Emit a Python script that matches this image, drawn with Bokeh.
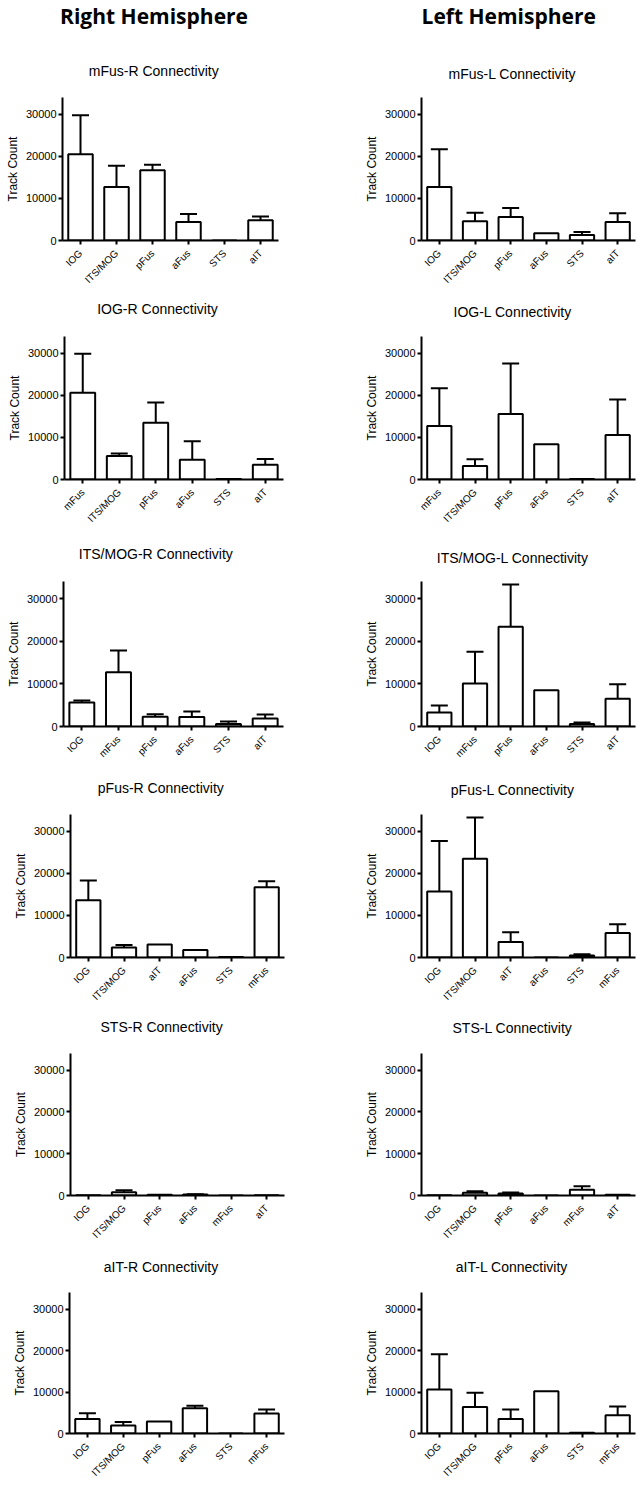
import math
from bokeh.plotting import figure
from bokeh.models import (Range1d, FactorRange, FixedTicker, Whisker, TeeHead,
                          ColumnDataSource, Title, NumeralTickFormatter)
from bokeh.layouts import row
from bokeh.embed import file_html
from bokeh.resources import INLINE

# ---------------- data ----------------
Y_MAX = 34000
y_ticks = [0, 10000, 20000, 30000]
hemispheres = ["Right Hemisphere", "Left Hemisphere"]
y_label = "Track Count"

# Right hemisphere
mfus_r_title = "mFus-R Connectivity"
mfus_r_cats = ["IOG", "ITS/MOG", "pFus", "aFus", "STS", "aIT"]
mfus_r_vals = [20500, 12700, 16700, 4400, 0, 4800]
mfus_r_errs = [29800, 17800, 18000, 6300, 0, 5700]

iog_r_title = "IOG-R Connectivity"
iog_r_cats = ["mFus", "ITS/MOG", "pFus", "aFus", "STS", "aIT"]
iog_r_vals = [20600, 5600, 13500, 4700, 100, 3500]
iog_r_errs = [29900, 6200, 18300, 9100, 100, 4900]

its_r_title = "ITS/MOG-R Connectivity"
its_r_cats = ["IOG", "mFus", "pFus", "aFus", "STS", "aIT"]
its_r_vals = [5600, 12700, 2300, 2200, 600, 1900]
its_r_errs = [6100, 17800, 2900, 3500, 1200, 2800]

pfus_r_title = "pFus-R Connectivity"
pfus_r_cats = ["IOG", "ITS/MOG", "aIT", "aFus", "STS", "mFus"]
pfus_r_vals = [13600, 2400, 3100, 1800, 100, 16700]
pfus_r_errs = [18300, 3000, 3100, 1800, 100, 18100]

sts_r_title = "STS-R Connectivity"
sts_r_cats = ["IOG", "ITS/MOG", "pFus", "aFus", "mFus", "aIT"]
sts_r_vals = [80, 800, 150, 250, 0, 80]
sts_r_errs = [80, 1250, 150, 300, 0, 80]

ait_r_title = "aIT-R Connectivity"
ait_r_cats = ["IOG", "ITS/MOG", "pFus", "aFus", "STS", "mFus"]
ait_r_vals = [3500, 1900, 2900, 6100, 0, 4800]
ait_r_errs = [4900, 2800, 2900, 6700, 0, 5800]

# Left hemisphere
mfus_l_title = "mFus-L Connectivity"
mfus_l_cats = ["IOG", "ITS/MOG", "pFus", "aFus", "STS", "aIT"]
mfus_l_vals = [12700, 4600, 5600, 1700, 1300, 4400]
mfus_l_errs = [21700, 6600, 7700, 1700, 2000, 6500]

iog_l_title = "IOG-L Connectivity"
iog_l_cats = ["mFus", "ITS/MOG", "pFus", "aFus", "STS", "aIT"]
iog_l_vals = [12700, 3200, 15600, 8400, 100, 10600]
iog_l_errs = [21700, 4800, 27600, 8400, 100, 19000]

its_l_title = "ITS/MOG-L Connectivity"
its_l_cats = ["IOG", "mFus", "pFus", "aFus", "STS", "aIT"]
its_l_vals = [3300, 10100, 23400, 8500, 600, 6500]
its_l_errs = [4900, 17500, 33300, 8500, 950, 9900]

pfus_l_title = "pFus-L Connectivity"
pfus_l_cats = ["IOG", "ITS/MOG", "aIT", "aFus", "STS", "mFus"]
pfus_l_vals = [15700, 23500, 3700, 0, 500, 5800]
pfus_l_errs = [27700, 33300, 6000, 0, 750, 7900]

sts_l_title = "STS-L Connectivity"
sts_l_cats = ["IOG", "ITS/MOG", "pFus", "aFus", "mFus", "aIT"]
sts_l_vals = [80, 650, 450, 0, 1350, 150]
sts_l_errs = [80, 1000, 700, 0, 2200, 150]

ait_l_title = "aIT-L Connectivity"
ait_l_cats = ["IOG", "ITS/MOG", "pFus", "aFus", "STS", "mFus"]
ait_l_vals = [10600, 6400, 3500, 10200, 200, 4400]
ait_l_errs = [19100, 9800, 5800, 10200, 200, 6500]

right_panels = [
    (mfus_r_title, mfus_r_cats, mfus_r_vals, mfus_r_errs),
    (iog_r_title, iog_r_cats, iog_r_vals, iog_r_errs),
    (its_r_title, its_r_cats, its_r_vals, its_r_errs),
    (pfus_r_title, pfus_r_cats, pfus_r_vals, pfus_r_errs),
    (sts_r_title, sts_r_cats, sts_r_vals, sts_r_errs),
    (ait_r_title, ait_r_cats, ait_r_vals, ait_r_errs),
]
left_panels = [
    (mfus_l_title, mfus_l_cats, mfus_l_vals, mfus_l_errs),
    (iog_l_title, iog_l_cats, iog_l_vals, iog_l_errs),
    (its_l_title, its_l_cats, its_l_vals, its_l_errs),
    (pfus_l_title, pfus_l_cats, pfus_l_vals, pfus_l_errs),
    (sts_l_title, sts_l_cats, sts_l_vals, sts_l_errs),
    (ait_l_title, ait_l_cats, ait_l_vals, ait_l_errs),
]

# ---------------- layout (page pixel geometry, page origin at 0,0) ----------------
LEFT_SHIFT = 30          # left plots start off-page (negative margin) to give room
COL_X0 = [-LEFT_SHIFT, 322]
COL_W = [322 + LEFT_SHIFT, 322]
HEADER_CX = [154, 508]
HEADER_BASELINE = 23.5
# rows: (row_top, row_bottom, frame_top, frame_zero)
ROWS = [(0, 298, 97, 240), (298, 543, 336, 479), (543, 776, 581, 726),
        (776, 1015, 814, 957), (1015, 1254, 1053, 1195), (1254, 1485, 1292, 1434)]
# per column and row: (frame_left, frame_width, title_left, title_cy)
COLS = [
    [(62, 216, 88.3, 72), (64, 219, 96.7, 310), (63, 220, 78.3, 555),
     (70, 214, 97.3, 789), (70, 214, 100, 1028), (69, 215, 103.3, 1268)],
    [(421, 214, 448, 75), (421, 214, 453, 313), (421, 214, 436.3, 559),
     (421, 214, 450.3, 791), (421, 214, 452, 1029), (421, 214, 455.3, 1268)],
]

FONT = "Liberation Sans"
HEAD_FONT = "Open Sans"
TITLE_PX = 14
HEAD_PX = 21
# approximate font metrics (em units) used only for placing text boxes
LIB_ASC, LIB_DESC = 0.905, 0.212
OS_ASC, OS_DESC = 1.069, 0.293
OS_BOLD_W = {"R": .676, "i": .285, "g": .602, "h": .667, "t": .420, " ": .260,
             "H": .768, "e": .590, "m": .995, "s": .499, "p": .643, "r": .454,
             "L": .543, "f": .388}


def spacer(height):
    fs = 2
    h = fs * (LIB_ASC + LIB_DESC)
    return Title(text=" ", text_font=FONT, text_font_size=f"{fs}px",
                 standoff=max(height - 2 - h, 0), text_color="white")


def make_panel(col, idx, panel):
    title, cats, vals, errs = panel
    fig_top, fig_bot, f_top, f_zero = ROWS[idx]
    f_left, f_w, t_left, t_cy = COLS[col][idx]
    x0 = COL_X0[col]
    W = COL_W[col]
    H = fig_bot - fig_top
    mb_left = f_left - x0
    mb_right = W - mb_left - f_w
    mb_top = f_top - fig_top
    mb_bot = fig_bot - f_zero

    extra = {}
    if x0 < 0:
        extra = dict(margin=(0, 0, 0, x0), styles={"margin-left": f"{x0}px"})
    p = figure(x_range=FactorRange(factors=cats), y_range=Range1d(0, Y_MAX),
               width=W, height=H, output_backend="svg", toolbar_location=None,
               title=None,
               min_border_left=mb_left, min_border_right=max(mb_right, 0),
               min_border_top=mb_top, min_border_bottom=mb_bot, **extra)
    p.outline_line_color = None
    p.xgrid.visible = False
    p.ygrid.visible = False
    p.background_fill_color = "white"
    p.border_fill_color = "white"

    # axes
    for ax in (p.xaxis, p.yaxis):
        ax.axis_line_width = 2
        ax.axis_line_color = "black"
        ax.major_tick_line_width = 2
        ax.major_tick_line_color = "black"
        ax.major_tick_in = 0
        ax.major_tick_out = 4
        ax.major_label_text_font = FONT
        ax.major_label_text_color = "black"
        ax.minor_tick_line_color = None
    p.yaxis.ticker = FixedTicker(ticks=y_ticks)
    p.yaxis.formatter = NumeralTickFormatter(format="0")
    p.yaxis.major_label_text_font_size = "11px"
    p.yaxis.major_label_standoff = 2
    p.yaxis.axis_label = y_label
    p.yaxis.axis_label_text_font = FONT
    p.yaxis.axis_label_text_font_size = "12px"
    p.yaxis.axis_label_text_font_style = "normal"
    p.yaxis.axis_label_text_color = "black"
    p.yaxis.axis_label_standoff = 3
    p.xaxis.major_label_text_font_size = "10px"
    p.xaxis.major_label_orientation = math.pi / 4
    p.xaxis.major_label_standoff = 7

    # bars
    p.vbar(x=cats, top=vals, bottom=0, width=0.68, fill_color="white",
           line_color="black", line_width=2)

    # upper error bars
    keep = [i for i in range(len(cats)) if errs[i] > vals[i]]
    if keep:
        src = ColumnDataSource(dict(x=[cats[i] for i in keep],
                                    lo=[vals[i] for i in keep],
                                    hi=[errs[i] for i in keep]))
        wk = Whisker(source=src, base="x", lower="lo", upper="hi",
                     dimension="height", line_width=2, line_color="black",
                     lower_head=None,
                     upper_head=TeeHead(size=17, line_width=2, line_color="black"))
        p.add_layout(wk)

    # panel title (stacked above frame: spacer, title)
    t_h = TITLE_PX * (LIB_ASC + LIB_DESC)
    t_bottom = t_cy + 0.25 * TITLE_PX + LIB_DESC * TITLE_PX
    sp1 = f_top - t_bottom
    p.add_layout(spacer(sp1), "above")
    p.add_layout(Title(text=title, text_font=FONT, text_font_size=f"{TITLE_PX}px",
                       text_font_style="normal", text_color="black",
                       align="left", offset=t_left - f_left, standoff=0,
                       vertical_align="bottom"), "above")

    if idx == 0:
        text = hemispheres[col]
        w = sum(OS_BOLD_W.get(c, .6) for c in text) * HEAD_PX
        s_h = -20
        h_bottom = HEADER_BASELINE + OS_DESC * HEAD_PX
        pb = h_bottom + s_h / 2
        title_top = f_top - sp1 - (2 + t_h)
        sp2 = title_top - pb
        p.add_layout(spacer(sp2), "above")
        p.add_layout(Title(text=text, text_font=HEAD_FONT,
                           text_font_size=f"{HEAD_PX}px", text_font_style="bold",
                           text_color="black", align="left",
                           offset=HEADER_CX[col] - w / 2 - f_left,
                           standoff=s_h, vertical_align="bottom"), "above")
    return p


# one root per row of panels, so that plot frames are not aligned across rows
roots = [row(make_panel(0, i, right_panels[i]), make_panel(1, i, left_panels[i]))
         for i in range(len(ROWS))]

open("out.html", "w").write(file_html(roots, INLINE))
